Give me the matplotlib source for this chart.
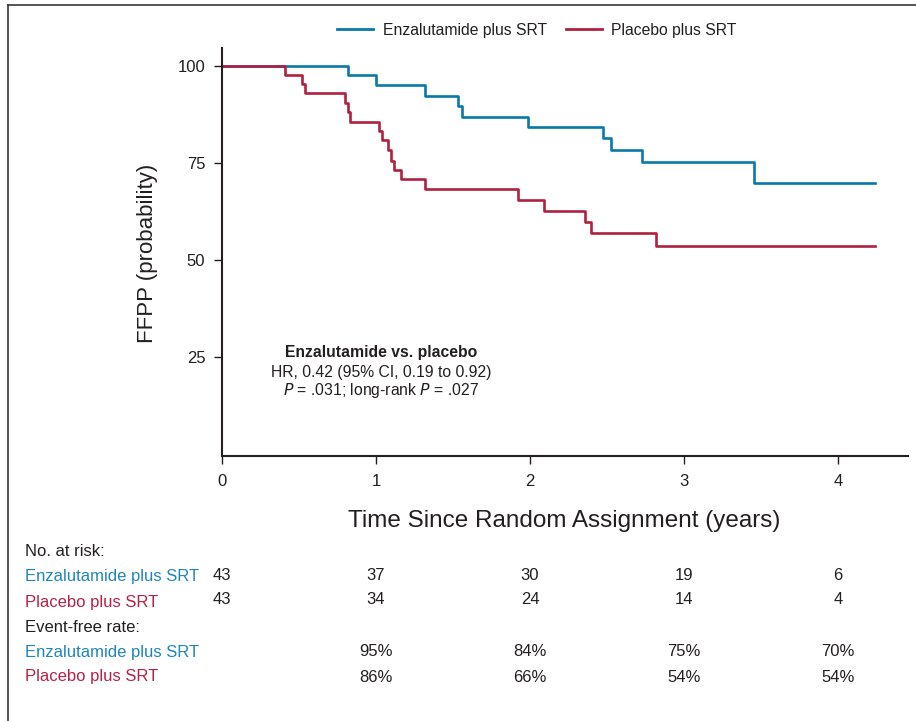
import matplotlib
matplotlib.use("Agg")
import matplotlib.pyplot as plt
from matplotlib.lines import Line2D
from matplotlib.transforms import blended_transform_factory

# ---- data ----
enza_t = [0, 0.82, 1.00, 1.32, 1.53, 1.556, 1.99, 2.476, 2.526, 2.725, 3.457, 4.24]
enza_s = [100, 97.7, 95.1, 92.3, 89.7, 86.9, 84.2, 81.4, 78.4, 75.3, 69.9, 69.9]
plac_t = [0, 0.41, 0.52, 0.539, 0.80, 0.82, 0.83, 1.02, 1.04, 1.08, 1.10, 1.12, 1.16,
          1.32, 1.92, 2.09, 2.357, 2.396, 2.816, 4.24]
plac_s = [100, 97.7, 95.4, 93.0, 90.4, 88.0, 85.6, 83.1, 80.8, 78.2, 75.5, 73.2, 70.8,
          68.4, 65.5, 62.6, 59.8, 56.9, 53.7, 53.7]

arm_names = ["Enzalutamide plus SRT", "Placebo plus SRT"]
risk_times = [0, 1, 2, 3, 4]
enza_risk = [43, 37, 30, 19, 6]
plac_risk = [43, 34, 24, 14, 4]
rate_times = [1, 2, 3, 4]
enza_rate = ["95%", "84%", "75%", "70%"]
plac_rate = ["86%", "66%", "54%", "54%"]
x_ticks = [0, 1, 2, 3, 4]
y_ticks = [25, 50, 75, 100]

BLUE = "#0a78aa"
RED = "#b0203f"
BLUE_T = "#1f86b8"
RED_T = "#b52247"
DARK = "#231f20"

REG = ["Liberation Sans", "DejaVu Sans"]

W, H = 916, 721
fig = plt.figure(figsize=(W / 100, H / 100), dpi=100)

def fx(px):
    return px / W

def fy(py):
    return 1 - py / H

ax = fig.add_axes([fx(222), fy(456), fx(908) - fx(222), fy(48) - fy(456)])
ax.step(enza_t, enza_s, where="post", color=BLUE, lw=1.9, label=arm_names[0])
ax.step(plac_t, plac_s, where="post", color=RED, lw=1.9, label=arm_names[1])
ax.set_xlim(0, 4.455)
ax.set_ylim(-0.5, 104.6)
ax.spines["top"].set_visible(False)
ax.spines["right"].set_visible(False)
for s in ("left", "bottom"):
    ax.spines[s].set_color(DARK)
    ax.spines[s].set_linewidth(1.5)
ax.set_xticks(x_ticks)
ax.set_yticks(y_ticks)
ax.tick_params(axis="both", direction="out", length=6, width=1.0, color=DARK,
               labelsize=12, labelcolor=DARK)
ax.tick_params(axis="x", pad=7)
ax.tick_params(axis="y", pad=6)
for lab in ax.get_xticklabels() + ax.get_yticklabels():
    lab.set_family(REG)

fig.text(fx(148), fy(253), "FFPP (probability)", fontsize=16, family=REG, color=DARK,
         rotation=90, ha="center", va="center")

fig.text(fx(564), fy(521), "Time Since Random Assignment (years)", fontsize=17.5,
         family=REG, color=DARK, ha="center", va="center")

# legend
leg = fig.legend(handles=[Line2D([], [], color=BLUE, lw=2.0), Line2D([], [], color=RED, lw=2.0)],
                 labels=arm_names, loc="center", bbox_to_anchor=(fx(537), fy(30)), ncol=2,
                 frameon=False, handlelength=2.3, columnspacing=1.2,
                 handletextpad=0.6, prop={"family": REG, "size": 11.3})
for t in leg.get_texts():
    t.set_color(DARK)

# annotation
AS = 11.3
fig.text(fx(381), fy(353), "Enzalutamide vs. placebo", fontsize=AS, fontweight="bold",
         family=REG, color=DARK, ha="center", va="center")
fig.text(fx(381), fy(372), "HR, 0.42 (95% CI, 0.19 to 0.92)", fontsize=AS,
         family=REG, color=DARK, ha="center", va="center")
fig.text(fx(381), fy(390), r"$\it{P}$ = .031; long-rank $\it{P}$ = .027", fontsize=AS,
         family=REG, color=DARK, ha="center", va="center")

# risk table
trans = blended_transform_factory(ax.transData, fig.transFigure)
TS = 12
fig.text(fx(25), fy(552), "No. at risk:", fontsize=TS, family=REG, color=DARK, va="center")
fig.text(fx(25), fy(577), arm_names[0], fontsize=TS, family=REG, color=BLUE_T, va="center")
fig.text(fx(25), fy(603), arm_names[1], fontsize=TS, family=REG, color=RED_T, va="center")
fig.text(fx(25), fy(627), "Event-free rate:", fontsize=TS, family=REG, color=DARK, va="center")
fig.text(fx(25), fy(652), arm_names[0], fontsize=TS, family=REG, color=BLUE_T, va="center")
fig.text(fx(25), fy(677), arm_names[1], fontsize=TS, family=REG, color=RED_T, va="center")
for t, v in zip(risk_times, enza_risk):
    fig.text(t, fy(576), str(v), transform=trans, fontsize=TS, family=REG, color=DARK,
             ha="center", va="center")
for t, v in zip(risk_times, plac_risk):
    fig.text(t, fy(600), str(v), transform=trans, fontsize=TS, family=REG, color=DARK,
             ha="center", va="center")
for t, v in zip(rate_times, enza_rate):
    fig.text(t, fy(652), v, transform=trans, fontsize=TS, family=REG, color=DARK,
             ha="center", va="center")
for t, v in zip(rate_times, plac_rate):
    fig.text(t, fy(677), v, transform=trans, fontsize=TS, family=REG, color=DARK,
             ha="center", va="center")

# frame lines (top and left)
fig.add_artist(Line2D([fx(8), 1], [fy(5), fy(5)], color="#3a3a3a", lw=1.2))
fig.add_artist(Line2D([fx(8), fx(8)], [fy(5), 0], color="#3a3a3a", lw=1.2))

fig.savefig("out.png", dpi=100)
